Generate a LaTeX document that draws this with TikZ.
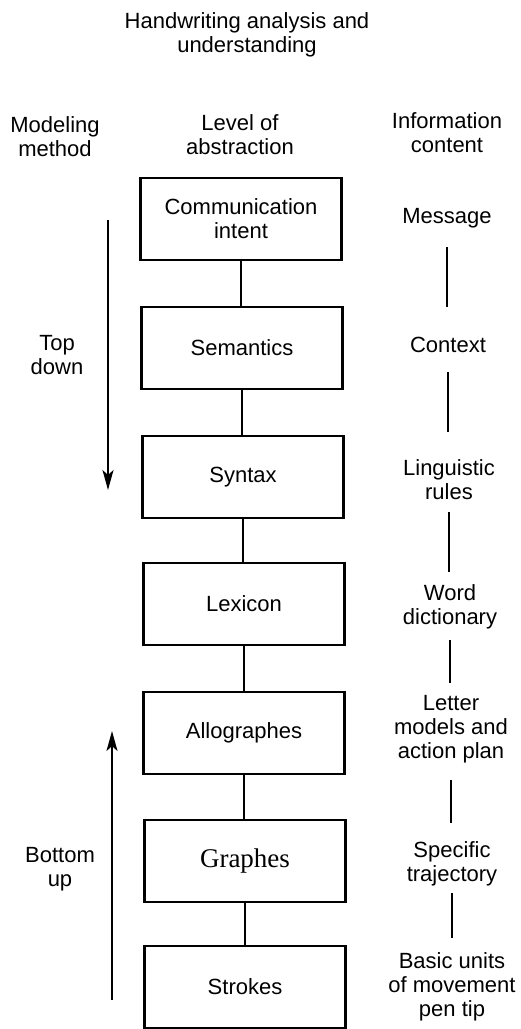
\documentclass[tikz,border=0pt]{standalone}
\usepackage{fontspec}
\setmainfont{Liberation Sans}
\newfontfamily\serifgr{Liberation Serif}
\usetikzlibrary{arrows.meta}
\begin{document}
\begin{tikzpicture}[x=0.5pt,y=-0.5pt,
  lvl/.style={draw,line width=1.4pt,minimum width=100.5pt,minimum height=41pt,inner sep=0pt,align=center,font=\fontsize{11}{12}\selectfont},
  lbl/.style={align=center,inner sep=0pt,font=\fontsize{11}{12}\selectfont},
  link/.style={line width=1.2pt},
  arr/.style={line width=1.1pt,-{Stealth[length=10pt,width=5.5pt,inset=2.5pt]}}]
\useasboundingbox (0,0) rectangle (520,1029);
% headings
\node[lbl] (title) at (247,35) {Handwriting analysis and\\understanding};
\node[lbl] (hmeth) at (55,137) {Modeling\\method};
\node[lbl] (habs) at (240,135) {Level of\\abstraction};
\node[lbl] (hinfo) at (447,133) {Information\\content};
% level boxes
\node[lvl] (b1) at (241,219) {Communication\\intent};
\node[lvl] (b2) at (242,348) {Semantics};
\node[lvl] (b3) at (243,477) {Syntax};
\node[lvl] (b4) at (244,604) {Lexicon};
\node[lvl] (b5) at (244,733) {Allographes};
\node[lvl] (b6) at (245,861) {\serifgr\fontsize{13.5}{14}\selectfont Graphes};
\node[lvl] (b7) at (245,987) {Strokes};
\foreach \a/\b in {b1/b2,b2/b3,b3/b4,b4/b5,b5/b6,b6/b7}
  \draw[link] (\a.south) -- (\a.south |- \b.north);
% information content
\node[lbl] (i1) at (447,218) {Message};
\node[lbl] (i2) at (448,345) {Context};
\node[lbl] (i3) at (449,480) {Linguistic\\rules};
\node[lbl] (i4) at (450,607) {Word\\dictionary};
\node[lbl] (i5) at (451,729) {Letter\\models and\\action plan};
\node[lbl] (i6) at (452,864) {Specific\\trajectory};
\node[lbl] (i7) at (452,987) {Basic units\\of movement\\pen tip};
\draw[link,shorten <=14.5pt,shorten >=19pt] (i1.center) -- (i1.center |- i2.center);
\draw[link,shorten <=13.5pt,shorten >=24pt] (i2.center) -- (i2.center |- i3.center);
\draw[link,shorten <=16pt,shorten >=17.5pt] (i3.center) -- (i3.center |- i4.center);
\draw[link,shorten <=16.5pt,shorten >=23pt] (i4.center) -- (i4.center |- i5.center);
\draw[link,shorten <=25.5pt,shorten >=20.5pt] (i5.center) -- (i5.center |- i6.center);
\draw[link,shorten <=14.5pt,shorten >=24.5pt] (i6.center) -- (i6.center |- i7.center);
% modeling method
\node[lbl] (td) at (57,355) {Top\\down};
\node[lbl] (bu) at (60,869) {Bottom\\up};
\coordinate (tdS) at (108,220);
\coordinate (tdE) at (108,490);
\coordinate (buS) at (112,1000);
\coordinate (buE) at (112,731);
\draw[arr] (tdS) -- (tdE);
\draw[arr] (buS) -- (buE);
\end{tikzpicture}
\end{document}
